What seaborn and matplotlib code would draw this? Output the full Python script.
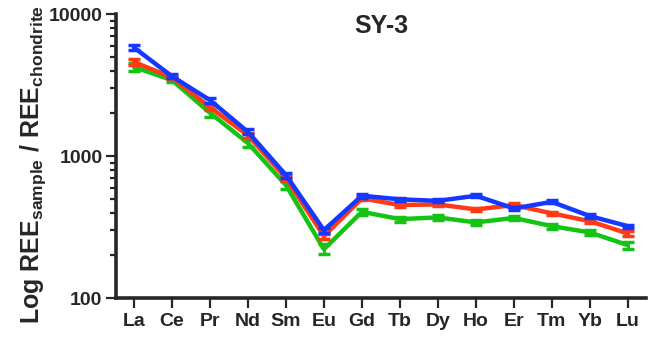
import numpy as np
import pandas as pd
import matplotlib
matplotlib.use("Agg")
import matplotlib.pyplot as plt
import seaborn as sns
from matplotlib.ticker import LogLocator, NullFormatter, FixedFormatter, FixedLocator

elements = ["La", "Ce", "Pr", "Nd", "Sm", "Eu", "Gd", "Tb", "Dy", "Ho", "Er", "Tm", "Yb", "Lu"]

blue_vals = [5820, 3650, 2480, 1480, 735, 301, 526, 496, 484, 526, 428, 476, 378, 321]
red_vals = [4600, 3580, 2210, 1400, 700, 273, 504, 452, 457, 421, 452, 395, 348, 285]
green_vals = [4250, 3430, 2020, 1235, 625, 221, 405, 360, 370, 341, 367, 321, 290, 236]

blue_err = [250, 120, 100, 60, 30, 12, 15, 12, 12, 12, 10, 12, 10, 8]
red_err = [200, 110, 90, 60, 30, 12, 15, 12, 12, 12, 12, 12, 10, 10]
green_err = [300, 120, 120, 70, 40, 18, 18, 14, 14, 14, 14, 14, 12, 14]

series = [
    ("green", green_vals, green_err, "#14C314"),
    ("red", red_vals, red_err, "#FF3A14"),
    ("blue", blue_vals, blue_err, "#1438FF"),
]

sns.set_style("ticks")
plt.rcParams["font.family"] = ["Liberation Sans", "DejaVu Sans"]
plt.rcParams["mathtext.fontset"] = "custom"
plt.rcParams["mathtext.bf"] = "Liberation Sans:bold"
plt.rcParams["mathtext.rm"] = "Liberation Sans:bold"

fig = plt.figure(figsize=(6.5, 3.45), dpi=100)
ax = fig.add_axes([0.178, 0.136, 0.816, 0.823])

pos = np.arange(len(elements))
for name, vals, err, col in series:
    df = pd.DataFrame({"x": pos, "y": vals})
    sns.lineplot(data=df, x="x", y="y", ax=ax, color=col, linewidth=3.2,
                 sort=False, legend=False)
    ax.errorbar(pos, vals, yerr=err, fmt="none", ecolor=col, elinewidth=2,
                capsize=4, capthick=2.5)

ax.set_yscale("log")
ax.set_ylim(100, 10000)
ax.set_xlim(-0.48, 13.48)

ax.yaxis.set_major_locator(FixedLocator([100, 1000, 10000]))
ax.yaxis.set_major_formatter(FixedFormatter(["100", "1000", "10000"]))
ax.yaxis.set_minor_locator(LogLocator(base=10, subs=np.arange(2, 10)))
ax.yaxis.set_minor_formatter(NullFormatter())

ax.set_xticks(pos)
ax.set_xticklabels(elements)

for lab in ax.get_xticklabels() + ax.get_yticklabels():
    lab.set_fontweight("bold")
    lab.set_fontsize(14)

ax.tick_params(axis="both", which="major", width=1.6, length=7.5, pad=2)
ax.tick_params(axis="x", which="major", pad=3)
ax.tick_params(axis="y", which="minor", width=1.6, length=4.5)

for side in ["top", "right"]:
    ax.spines[side].set_visible(False)
for side in ["left", "bottom"]:
    ax.spines[side].set_linewidth(2.6)

ax.set_xlabel("")
ax.set_ylabel(r"Log REE$_{\mathbf{sample}}$ / REE$_{\mathbf{chondrite}}$",
              fontsize=18, fontweight="bold")
ax.yaxis.set_label_coords(-0.128, 0.47)
ax.text(0.5, 1.0, "SY-3", transform=ax.transAxes, ha="center", va="top",
        fontsize=18, fontweight="bold")

fig.savefig("out.png", dpi=100)
